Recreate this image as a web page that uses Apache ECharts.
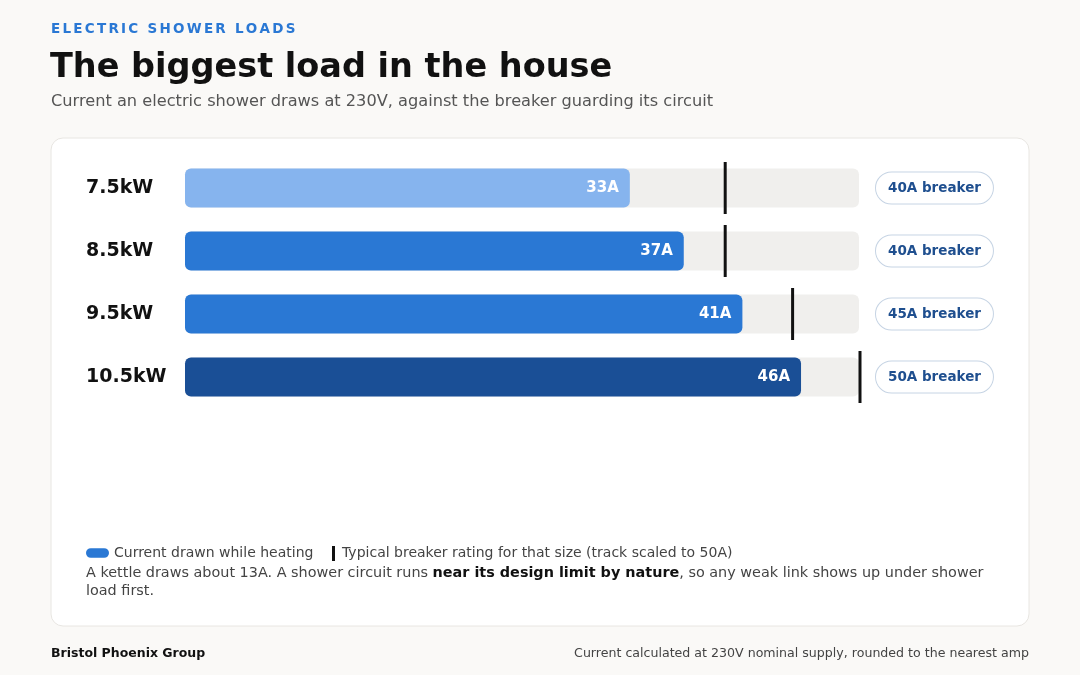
<!DOCTYPE html>
<html>
<head>
<meta charset="utf-8">
<script src="https://cdn.jsdelivr.net/npm/echarts@6/dist/echarts.min.js"></script>
<style>
  html, body { margin: 0; padding: 0; background: #faf9f7; }
  #chart { width: 1080px; height: 675px; }
</style>
</head>
<body>
<div id="chart"></div>
<script>
// shower sizes and the current they draw at 230V
var showerSizes = ['7.5kW', '8.5kW', '9.5kW', '10.5kW'];
var currentAmps = [33, 37, 41.35, 45.7];   // bar lengths as drawn
var breakerAmps = [40, 40, 45, 50];
var trackMax = 50;

var barColors = ['#86b4ee', '#2a78d4', '#2a78d4', '#1a4f96'];
var FONT = 'DejaVu Sans';

var SERIES_BAR = 'Current drawn while heating';
var SERIES_BREAKER = 'Typical breaker rating for that size (track scaled to 50A)';

// wide tracking for the eyebrow (six-per-em spaces between letters)
function spaced(s) {
  return s.split('').join('\u2006');
}

var chart = echarts.init(document.getElementById('chart'));

var option = {
  backgroundColor: '#faf9f7',
  textStyle: { fontFamily: FONT },
  title: [
    {
      text: spaced('ELECTRIC SHOWER LOADS'),
      left: 51, top: 22, padding: 0,
      textStyle: { fontFamily: FONT, fontSize: 13.5, fontWeight: 'bold', color: '#2a78d4' }
    },
    {
      text: 'The biggest load in the house',
      left: 50, top: 51, padding: 0,
      textStyle: { fontFamily: FONT, fontSize: 33.5, fontWeight: 'bold', color: '#111' }
    },
    {
      text: 'Current an electric shower draws at 230V, against the breaker guarding its circuit',
      left: 51, top: 94, padding: 0,
      textStyle: { fontFamily: FONT, fontSize: 16.2, fontWeight: 'normal', color: '#555' }
    },
    {
      text: 'Bristol Phoenix Group',
      left: 51, top: 647, padding: 0,
      textStyle: { fontFamily: FONT, fontSize: 12.5, fontWeight: 'bold', color: '#111' }
    },
    {
      text: 'Current calculated at 230V nominal supply, rounded to the nearest amp',
      right: 51, top: 647, padding: 0,
      textStyle: { fontFamily: FONT, fontSize: 12.6, fontWeight: 'normal', color: '#444' }
    }
  ],
  // card behind the chart
  graphic: [
    {
      type: 'rect', z: -10, silent: true,
      shape: { x: 51, y: 138, width: 978, height: 488, r: 12 },
      style: { fill: '#ffffff', stroke: '#e8e6e2', lineWidth: 1 }
    },
    {
      type: 'text', left: 86, top: 564,
      style: {
        text: 'A kettle draws about 13A. A shower circuit runs {b|near its design limit by nature}, so any weak link shows up under shower\nload first.',
        fontFamily: FONT, fontSize: 14.4, lineHeight: 18, fill: '#444',
        rich: { b: { fontFamily: FONT, fontSize: 14.4, fontWeight: 'bold', fill: '#111', lineHeight: 18 } }
      }
    }
  ],
  legend: [
    {
      left: 86, top: 546, padding: 0,
      itemWidth: 23, itemHeight: 10,
      textStyle: { fontFamily: FONT, fontSize: 14, color: '#444' },
      data: [{ name: SERIES_BAR, icon: 'path://M5,0h14a5,5 0 0 1 0,10h-14a5,5 0 0 1 0,-10z', itemStyle: { color: '#2a78d4' } }],
      selectedMode: false
    },
    {
      left: 332, top: 546, padding: 0,
      itemWidth: 3, itemHeight: 15, itemGap: 0,
      textStyle: { fontFamily: FONT, fontSize: 14, color: '#444', padding: [0, 0, 0, 2] },
      data: [{ name: SERIES_BREAKER, icon: 'rect', itemStyle: { color: '#111' } }],
      selectedMode: false
    }
  ],
  grid: { left: 185, right: 221, top: 156.5, height: 252 },
  xAxis: {
    type: 'value', min: 0, max: trackMax,
    show: false
  },
  yAxis: [
    {
      type: 'category', inverse: true, data: showerSizes,
      axisLine: { show: false }, axisTick: { show: false },
      axisLabel: { align: 'left', margin: 99, fontFamily: FONT, fontSize: 19, fontWeight: 'bold', color: '#111' }
    },
    {
      type: 'category', inverse: true, position: 'right',
      data: breakerAmps.map(function (b) { return b + 'A breaker'; }),
      axisLine: { show: false }, axisTick: { show: false },
      axisLabel: {
        margin: 17, fontFamily: FONT, fontSize: 13.5, fontWeight: 'bold', color: '#1f4f8f',
        backgroundColor: '#ffffff', borderColor: '#c6d4e4', borderWidth: 1, borderRadius: 17,
        padding: [9, 12, 8, 12]
      }
    }
  ],
  series: [
    {
      name: SERIES_BAR,
      type: 'bar',
      barWidth: 39,
      symbolKeepAspect: true,
      showBackground: true,
      backgroundStyle: { color: '#f0efed', borderRadius: 6 },
      itemStyle: { borderRadius: 6 },
      label: {
        show: true, position: 'insideRight', distance: 11,
        formatter: function (p) { return Math.round(p.value) + 'A'; },
        color: '#ffffff', fontFamily: FONT, fontSize: 15, fontWeight: 'bold'
      },
      data: currentAmps.map(function (v, i) {
        return { value: v, itemStyle: { color: barColors[i] } };
      }),
      z: 2
    },
    {
      name: SERIES_BREAKER,
      type: 'scatter',
      symbol: 'rect',
      symbolSize: [3, 52],
      symbolOffset: [1, 0],
      clip: false,
      itemStyle: { color: '#111', opacity: 1 },
      data: breakerAmps.map(function (b, i) { return [b, i]; }),
      z: 5
    }
  ]
};

chart.setOption(option);
window.addEventListener('resize', function () {
  chart.resize();
});
</script>
</body>
</html>
